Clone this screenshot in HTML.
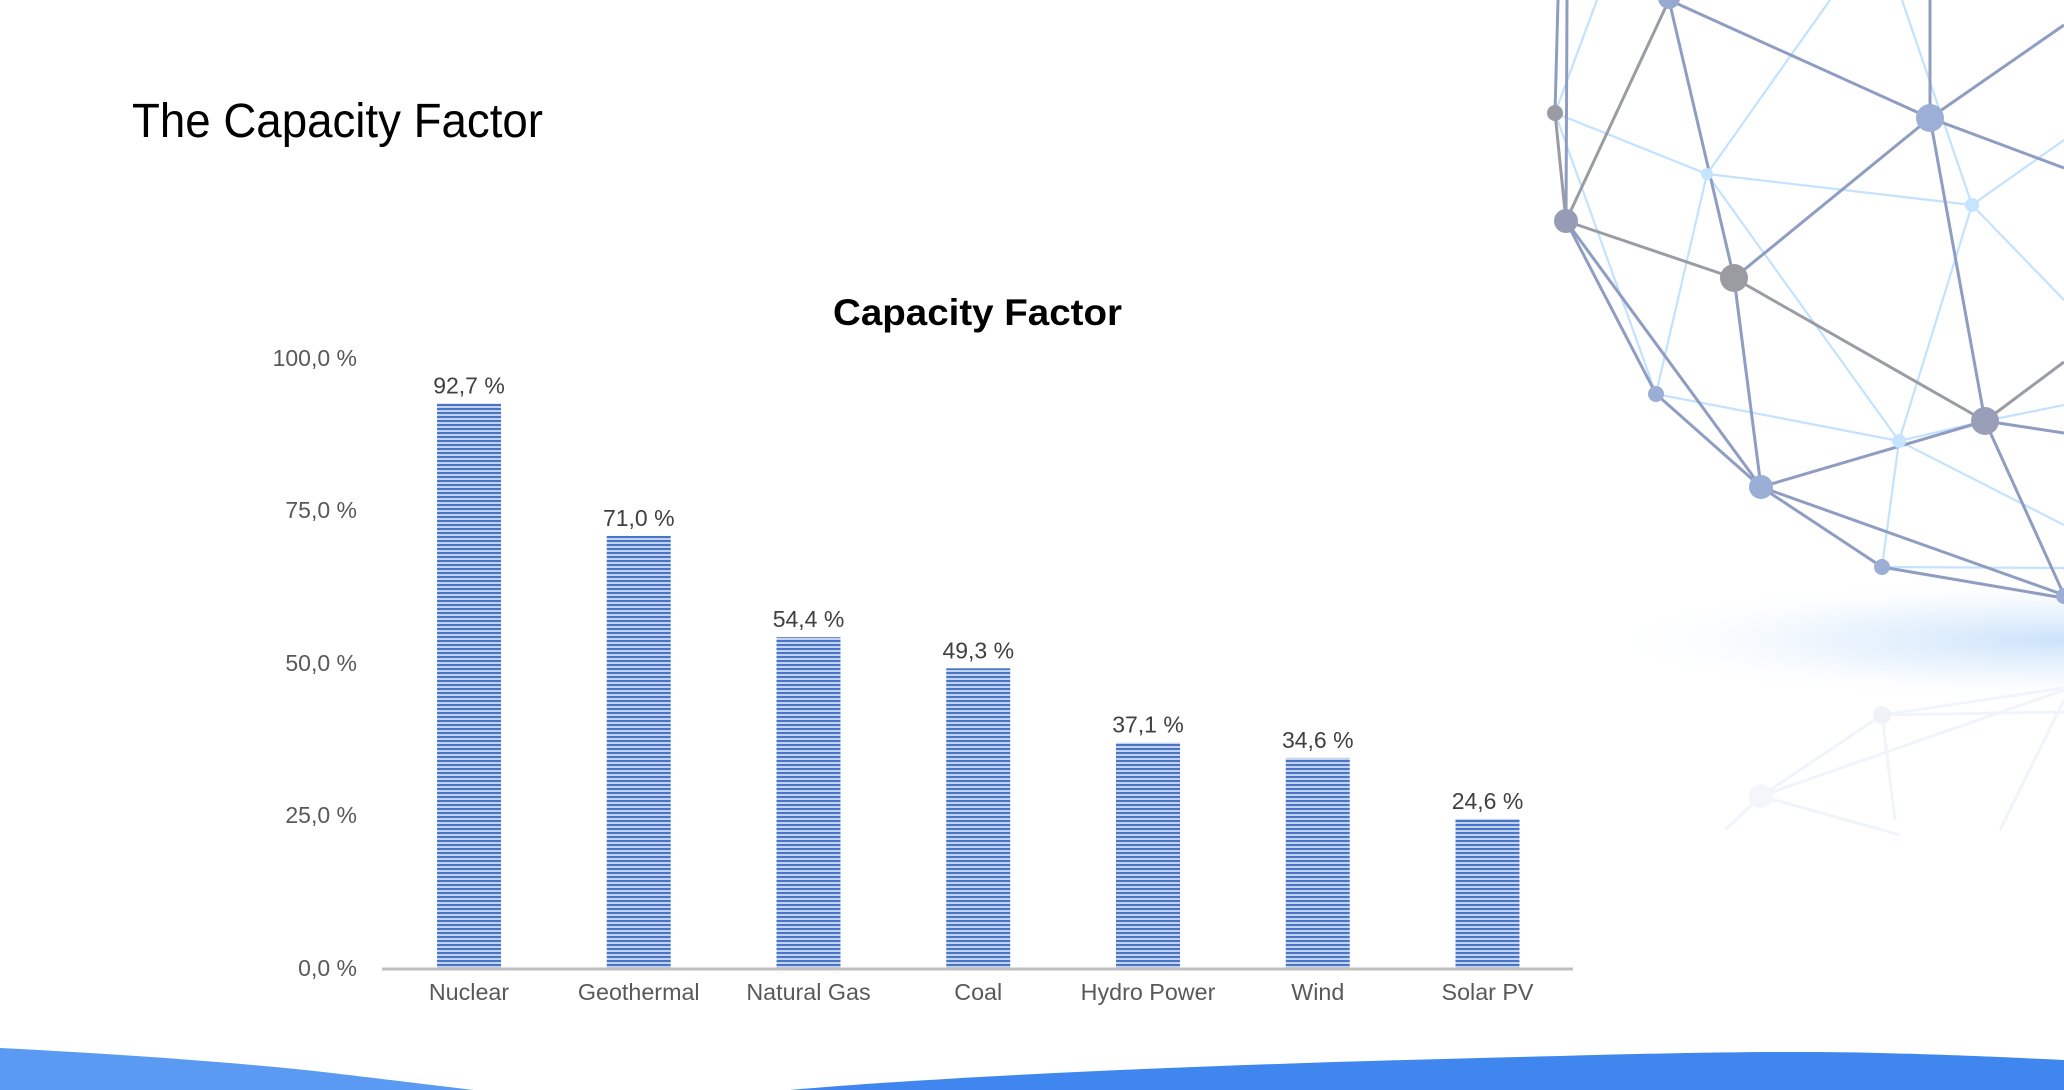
<!DOCTYPE html>
<html>
<head>
<meta charset="utf-8">
<style>
html,body{margin:0;padding:0;background:#fff;}
svg{display:block;}
</style>
</head>
<body>
<svg width="2064" height="1090" viewBox="0 0 2064 1090" xmlns="http://www.w3.org/2000/svg">
<defs>
<pattern id="stripe" patternUnits="userSpaceOnUse" x="0" y="0" width="8" height="4">
<rect x="0" y="0" width="8" height="4" fill="#c3d3ee"/>
<rect x="0" y="0" width="8" height="2" fill="#4875c6"/>
</pattern>
<radialGradient id="glow" cx="0.5" cy="0.5" r="0.5">
<stop offset="0" stop-color="#c9e1fa" stop-opacity="0.95"/>
<stop offset="0.5" stop-color="#e0eefc" stop-opacity="0.6"/>
<stop offset="1" stop-color="#ffffff" stop-opacity="0"/>
</radialGradient>
</defs>

<!-- glow -->
<ellipse cx="2060" cy="640" rx="470" ry="62" fill="url(#glow)"/>

<!-- faint reflection -->
<g stroke="#f1f4fa" stroke-width="3" fill="none">
<line x1="1882" y1="715" x2="2064" y2="688"/>
<line x1="1882" y1="715" x2="2064" y2="712"/>
<line x1="1761" y1="796" x2="1882" y2="715"/>
<line x1="1761" y1="796" x2="2064" y2="690"/>
<line x1="1761" y1="796" x2="1900" y2="835"/>
<line x1="1882" y1="715" x2="1895" y2="820"/>
<line x1="2064" y1="700" x2="2000" y2="830"/>
<line x1="1761" y1="796" x2="1725" y2="830"/>
</g>
<circle cx="1882" cy="715" r="9" fill="#f0f2f8"/>
<circle cx="1761" cy="796" r="12" fill="#f5f6fa"/>

<!-- light network edges -->
<g stroke="#c3e2ff" stroke-width="2.2" fill="none">
<line x1="1597" y1="0" x2="1555" y2="113"/>
<line x1="1555" y1="113" x2="1707" y2="174"/>
<line x1="1707" y1="174" x2="1830" y2="0"/>
<line x1="1707" y1="174" x2="1972" y2="205"/>
<line x1="1707" y1="174" x2="1656" y2="394"/>
<line x1="1707" y1="174" x2="1899" y2="441"/>
<line x1="1902" y1="0" x2="1972" y2="205"/>
<line x1="1972" y1="205" x2="2064" y2="140"/>
<line x1="1972" y1="205" x2="2064" y2="300"/>
<line x1="1972" y1="205" x2="1899" y2="441"/>
<line x1="1555" y1="113" x2="1656" y2="394"/>
<line x1="1656" y1="394" x2="1899" y2="441"/>
<line x1="1899" y1="441" x2="1985" y2="421"/>
<line x1="1899" y1="441" x2="2064" y2="525"/>
<line x1="1899" y1="441" x2="1882" y2="567"/>
<line x1="1882" y1="567" x2="2064" y2="568"/>
<line x1="1761" y1="487" x2="1882" y2="567"/>
<line x1="1656" y1="394" x2="1761" y2="487"/>
<line x1="1985" y1="421" x2="2064" y2="405"/>
</g>

<!-- dark network edges -->
<g stroke="#8f9dc2" stroke-width="3" fill="none">
<line x1="1558" y1="0" x2="1555" y2="113"/>
<line x1="1567" y1="0" x2="1566" y2="221"/>
<line x1="1669" y1="0" x2="1734" y2="278"/>
<line x1="1669" y1="0" x2="1930" y2="118"/>
<line x1="1930" y1="0" x2="1930" y2="118"/>
<line x1="1930" y1="118" x2="2064" y2="25"/>
<line x1="1930" y1="118" x2="2064" y2="168"/>
<line x1="1930" y1="118" x2="1734" y2="278"/>
<line x1="1930" y1="118" x2="1985" y2="421"/>
<line x1="1734" y1="278" x2="1761" y2="487"/>
<line x1="1566" y1="221" x2="1656" y2="394"/>
<line x1="1566" y1="221" x2="1761" y2="487"/>
<line x1="1656" y1="394" x2="1761" y2="487"/>
<line x1="1761" y1="487" x2="1985" y2="421"/>
<line x1="1761" y1="487" x2="2064" y2="595"/>
<line x1="1761" y1="487" x2="1882" y2="567"/>
<line x1="1882" y1="567" x2="2064" y2="598"/>
<line x1="1985" y1="421" x2="2064" y2="433"/>
<line x1="1985" y1="421" x2="2064" y2="595"/>
</g>
<g stroke="#9a9ca4" stroke-width="3" fill="none">
<line x1="1555" y1="113" x2="1566" y2="221"/>
<line x1="1669" y1="0" x2="1566" y2="221"/>
<line x1="1566" y1="221" x2="1734" y2="278"/>
<line x1="1734" y1="278" x2="1985" y2="421"/>
<line x1="1985" y1="421" x2="2064" y2="362"/>
</g>

<!-- nodes -->
<circle cx="1669" cy="-2" r="11" fill="#98a9d1"/>
<circle cx="1555" cy="113" r="8" fill="#9a9ca4"/>
<circle cx="1566" cy="221" r="12" fill="#969cb5"/>
<circle cx="1734" cy="278" r="14" fill="#9a9ca1"/>
<circle cx="1930" cy="118" r="14" fill="#9cafd6"/>
<circle cx="1707" cy="174" r="6" fill="#c6e4ff"/>
<circle cx="1972" cy="205" r="7" fill="#c6e4ff"/>
<circle cx="1985" cy="421" r="14" fill="#999fb8"/>
<circle cx="1656" cy="394" r="8" fill="#9aaed6"/>
<circle cx="1761" cy="487" r="12" fill="#9aaed6"/>
<circle cx="1899" cy="441" r="7" fill="#c6e4ff"/>
<circle cx="1882" cy="567" r="8" fill="#9aaed6"/>
<circle cx="2064" cy="596" r="8" fill="#9aaed6"/>

<!-- bottom waves -->
<path d="M0,1048 C120,1054 260,1064 340,1074 C400,1081 440,1086 474,1090 L0,1090 Z" fill="#5a9af2"/>
<path d="M790,1090 C1000,1072 1300,1062 1560,1056 C1700,1052 1800,1051 1880,1053 C1960,1055 2020,1058 2064,1060 L2064,1090 Z" fill="#3f87ee"/>

<!-- slide title -->
<text x="132" y="137" font-family="Liberation Sans, Arial, sans-serif" font-size="48" fill="#000" textLength="411" lengthAdjust="spacingAndGlyphs">The Capacity Factor</text>

<!-- chart title -->
<text x="833" y="325" font-family="Liberation Sans, Arial, sans-serif" font-size="37" font-weight="bold" fill="#000" textLength="289" lengthAdjust="spacingAndGlyphs">Capacity Factor</text>

<!-- y axis labels -->
<g font-family="Liberation Sans, Arial, sans-serif" font-size="23" fill="#595959" text-anchor="end">
<text x="357" y="366">100,0 %</text>
<text x="357" y="518">75,0 %</text>
<text x="357" y="671">50,0 %</text>
<text x="357" y="823">25,0 %</text>
<text x="357" y="976">0,0 %</text>
</g>

<!-- bars -->
<g fill="url(#stripe)">
<rect x="437" y="403.5" width="64" height="564.5"/>
<rect x="606.75" y="535.9" width="64" height="432.1"/>
<rect x="776.5" y="637.2" width="64" height="330.8"/>
<rect x="946.25" y="668.3" width="64" height="299.7"/>
<rect x="1116" y="742.7" width="64" height="225.3"/>
<rect x="1285.75" y="757.9" width="64" height="210.1"/>
<rect x="1455.5" y="818.9" width="64" height="149.1"/>
</g>

<!-- axis -->
<rect x="382" y="967.5" width="1191" height="3" fill="#bfbfbf"/>

<!-- value labels -->
<g font-family="Liberation Sans, Arial, sans-serif" font-size="23" fill="#404040" text-anchor="middle">
<text x="469" y="393.5">92,7 %</text>
<text x="638.75" y="525.9">71,0 %</text>
<text x="808.5" y="627.2">54,4 %</text>
<text x="978.25" y="658.3">49,3 %</text>
<text x="1148" y="732.7">37,1 %</text>
<text x="1317.75" y="747.9">34,6 %</text>
<text x="1487.5" y="808.9">24,6 %</text>
</g>

<!-- category labels -->
<g font-family="Liberation Sans, Arial, sans-serif" font-size="23.3" fill="#595959" text-anchor="middle">
<text x="469" y="1000">Nuclear</text>
<text x="638.75" y="1000">Geothermal</text>
<text x="808.5" y="1000">Natural Gas</text>
<text x="978.25" y="1000">Coal</text>
<text x="1148" y="1000">Hydro Power</text>
<text x="1317.75" y="1000">Wind</text>
<text x="1487.5" y="1000">Solar PV</text>
</g>
</svg>
</body>
</html>
